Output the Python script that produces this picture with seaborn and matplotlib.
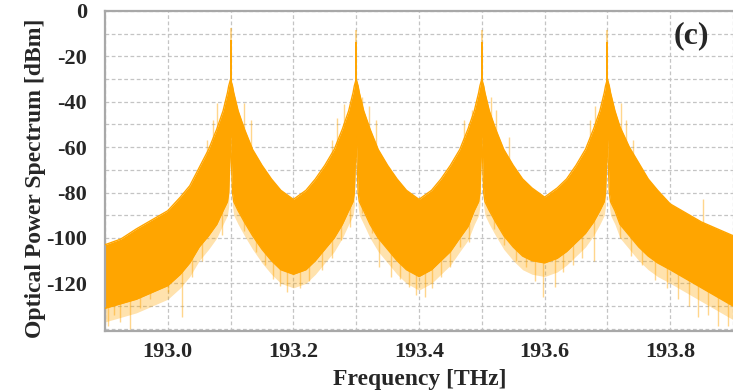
import numpy as np
import pandas as pd
import matplotlib
matplotlib.use("Agg")
import matplotlib.pyplot as plt
import seaborn as sns

# ---------------- data ----------------
carrier_freq = [193.1, 193.3, 193.5, 193.7]          # THz
carrier_peak = [-7.5, -8.4, -8.4, -8.4]              # faint tip, dBm
carrier_core = [-12.8, -13.6, -13.6, -13.6]          # solid tip, dBm

# envelope of the noisy spectrum (frequency in THz)
env_freq = [
    192.900, 192.925, 192.950, 192.975, 193.000, 193.020, 193.035, 193.050, 193.065, 193.078,
    193.088, 193.095, 193.097, 193.100, 193.103, 193.105, 193.112, 193.122, 193.135, 193.150,
    193.165, 193.180, 193.200, 193.220, 193.235, 193.250, 193.265, 193.278, 193.288, 193.295,
    193.297, 193.300, 193.303, 193.305, 193.312, 193.322, 193.335, 193.350, 193.365, 193.380,
    193.400, 193.420, 193.435, 193.450, 193.465, 193.478, 193.488, 193.495, 193.497, 193.500,
    193.503, 193.505, 193.512, 193.522, 193.535, 193.550, 193.565, 193.580, 193.600, 193.620,
    193.635, 193.650, 193.665, 193.678, 193.688, 193.695, 193.697, 193.700, 193.703, 193.705,
    193.712, 193.720, 193.735, 193.750, 193.765, 193.780, 193.800, 193.825, 193.850, 193.875,
    193.900,
]
env_upper = [
    -103, -100.5, -96, -92, -88, -82, -77, -69, -61, -52,
    -44, -36, -33, -30, -33, -36, -44, -52, -61, -68,
    -74, -79, -83, -79, -74, -68, -61, -52, -44, -36,
    -33, -30, -33, -36, -44, -52, -61, -68, -74, -79,
    -83, -79, -74, -68, -61, -52, -44, -36, -33, -30,
    -33, -36, -44, -52, -61, -68, -74, -78, -82, -78,
    -74, -68, -61, -52, -44, -36, -33, -30, -33, -36,
    -44, -51, -60, -67, -74, -79, -85, -89, -93, -96,
    -99,
]
env_lower = [
    -131, -129, -127, -124, -121, -116, -111, -104, -99, -94,
    -88, -84, -80, -55, -80, -84, -88, -93, -99, -105,
    -110, -114, -116, -114, -110, -105, -100, -94, -88, -84,
    -80, -55, -80, -84, -88, -94, -100, -105, -110, -114,
    -117, -114, -110, -106, -100, -95, -88, -84, -80, -55,
    -80, -84, -88, -93, -99, -104, -108, -110, -111, -109,
    -106, -102, -98, -93, -88, -84, -80, -55, -80, -84,
    -88, -94, -99, -104, -108, -111, -114, -118, -122, -126,
    -130,
]
# pale fringe of dense noise lines under the solid band
env_fringe = [
    -137, -135, -133, -130, -127, -122, -117, -110, -105, -100,
    -94, -90, -86, -60, -86, -90, -94, -99, -105, -111,
    -116, -120, -122, -120, -116, -111, -106, -100, -94, -90,
    -86, -60, -86, -90, -94, -100, -106, -111, -116, -120,
    -123, -120, -116, -112, -106, -101, -94, -90, -86, -60,
    -86, -90, -94, -99, -105, -110, -114, -116, -117, -115,
    -112, -108, -104, -99, -94, -90, -86, -60, -86, -90,
    -94, -100, -105, -110, -114, -117, -120, -124, -128, -132,
    -136,
]

# sparse noise spikes reaching below the band (freq THz, tip dBm)
dip_freq = [
    192.905, 192.915, 192.924, 192.940, 192.955, 192.960, 192.971, 192.984, 193.000, 193.022,
    193.038, 193.055, 193.071, 193.087, 193.122, 193.141, 193.155, 193.167, 193.178, 193.190,
    193.210, 193.225, 193.245, 193.262, 193.275, 193.290, 193.310, 193.325, 193.337, 193.356,
    193.370, 193.384, 193.395, 193.410, 193.420, 193.435, 193.450, 193.465, 193.479, 193.520,
    193.535, 193.554, 193.571, 193.585, 193.598, 193.617, 193.630, 193.645, 193.660, 193.678,
    193.720, 193.738, 193.755, 193.776, 193.795, 193.813, 193.830, 193.844, 193.860, 193.876,
    193.892,
]
dip_tip = [
    -139, -134, -137, -140, -131, -124, -127, -122, -124, -135,
    -117, -110, -93, -98.6, -97, -106, -112, -118, -121, -124,
    -122, -119, -114, -109, -101, -95, -89, -98, -113, -117,
    -118, -121.5, -125, -126, -122, -117, -113, -104, -102, -96,
    -103, -110, -113, -119, -126, -121.5, -115, -112, -109, -110,
    -100, -108, -112, -118.5, -122, -127, -130, -135, -134, -139,
    -139,
]

# spikes rising above the band near the carriers (freq THz, tip dBm)
rise_freq = [
    193.062, 193.072, 193.079, 193.121, 193.133,
    193.262, 193.270, 193.281, 193.310, 193.321, 193.332,
    193.471, 193.484, 193.514, 193.522, 193.543,
    193.673, 193.681, 193.722, 193.730, 193.741, 193.852,
]
rise_tip = [
    -57, -48, -40.5, -40.5, -48,
    -57, -47, -41, -38, -42, -48,
    -48, -43.6, -38, -43.6, -55.5,
    -48, -42, -40.5, -48, -57, -83,
]

x_ticks = [193.0, 193.2, 193.4, 193.6, 193.8]
x_tick_labels = ["193.0", "193.2", "193.4", "193.6", "193.8"]
y_ticks = [0, -20, -40, -60, -80, -100, -120]
y_tick_labels = ["0", "-20", "-40", "-60", "-80", "-100", "-120"]

# ---------------- drawing ----------------
sns.set_style("white")
plt.rcParams["font.family"] = ["Liberation Serif", "DejaVu Serif"]
plt.rcParams["font.weight"] = "bold"

ORANGE = "#FFA500"

fig = plt.figure(figsize=(7.33, 3.91), dpi=100)
ax = fig.add_axes([105 / 733, 1 - 331 / 391, 628 / 733, 320 / 391])

env = pd.DataFrame({"freq": env_freq, "upper": env_upper, "lower": env_lower,
                    "fringe": env_fringe})

# faint spikes: each runs from its tip into the solid band
dip_top = np.interp(dip_freq, env_freq, env_lower) + 4
rise_bottom = np.interp(rise_freq, env_freq, env_upper) - 4
ax.vlines(dip_freq, dip_tip, dip_top, color=ORANGE, alpha=0.45, lw=1.0, zorder=1)
ax.vlines(rise_freq, rise_bottom, rise_tip, color=ORANGE, alpha=0.45, lw=1.0, zorder=1)

# pale fringe + solid noisy band
ax.fill_between(env["freq"], env["fringe"], env["lower"], color=ORANGE, alpha=0.32,
                lw=0, zorder=1.5)
ax.fill_between(env["freq"], env["lower"], env["upper"], color=ORANGE, lw=0, zorder=2)
sns.lineplot(data=env, x="freq", y="upper", color=ORANGE, lw=1.0, ax=ax, zorder=3)
sns.lineplot(data=env, x="freq", y="lower", color=ORANGE, lw=1.0, ax=ax, zorder=3)

# carriers
ax.vlines(carrier_freq, [-40] * 4, carrier_peak, color=ORANGE, alpha=0.5, lw=1.2, zorder=3)
ax.vlines(carrier_freq, [-40] * 4, carrier_core, color=ORANGE, lw=1.4, zorder=3)

ax.set_xlim(192.9, 193.9)
ax.set_ylim(-141, 0)
ax.set_xticks(x_ticks)
ax.set_xticklabels(x_tick_labels)
ax.set_xticks(np.arange(192.9, 193.95, 0.1), minor=True)
ax.set_yticks(y_ticks)
ax.set_yticklabels(y_tick_labels)
ax.set_yticks(np.arange(0, -141, -10), minor=True)

ax.grid(True, which="both", color="#c4c4c4", lw=0.9, linestyle=(0, (3, 2)), zorder=0)
ax.set_axisbelow(True)
ax.tick_params(axis="both", which="both", length=0, labelsize=16)
ax.tick_params(axis="y", pad=13)
ax.tick_params(axis="x", pad=8)
for lab in ax.get_xticklabels() + ax.get_yticklabels():
    lab.set_fontweight("bold")

for side in ["left", "bottom", "top"]:
    ax.spines[side].set_visible(True)
    ax.spines[side].set_color("#a8a8a8")
    ax.spines[side].set_linewidth(1.6)
ax.spines["right"].set_visible(False)

ax.set_xlabel("Frequency [THz]", fontsize=17, fontweight="bold", va="center")
ax.set_ylabel("Optical Power Spectrum [dBm]", fontsize=17, fontweight="bold", va="center")
ax.xaxis.set_label_coords((420 - 105) / 628, -(380 - 331) / 320)
ax.yaxis.set_label_coords(-(105 - 36) / 628, (331 - 178) / 320)

ax.text(0.933, 0.922, "(c)", transform=ax.transAxes, fontsize=23, fontweight="bold",
        ha="center", va="center")

fig.savefig("out.png", dpi=100)
